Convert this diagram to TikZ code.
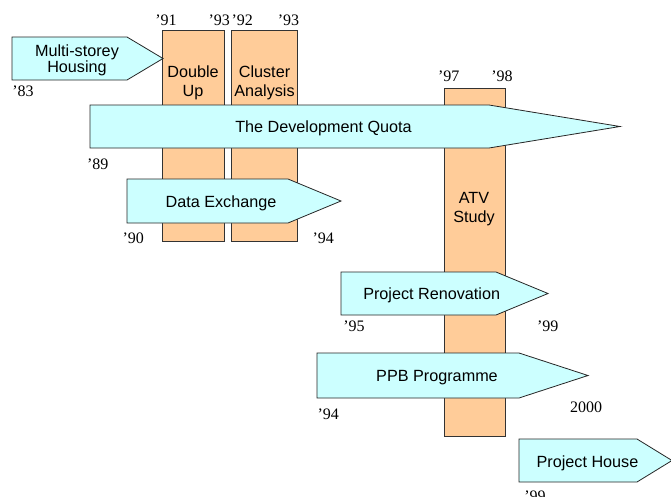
\documentclass[tikz,border=0pt]{standalone}
\usepackage{fontspec}
\setmainfont{Liberation Serif}
\setsansfont{Liberation Sans}
\definecolor{barfill}{RGB}{255,204,153}
\definecolor{phasefill}{RGB}{204,255,255}
\tikzset{
  bar/.style={draw=black!80,fill=barfill,line width=0.8pt},
  phase/.style={draw=black!85,fill=phasefill,line width=0.8pt,line join=miter},
  lbl/.style={font=\sffamily\fontsize{16.2}{19}\selectfont,anchor=base,align=center,inner sep=0pt},
  yr/.style={font=\fontsize{16}{18}\selectfont,anchor=base,inner sep=0pt}
}
% pentagon arrow: left, top, bottom, shoulder, tip
\newcommand{\phasebox}[5]{%
  \draw [phase] (#1,#2) -- (#4,#2) -- (#5,{(#2+#3)/2}) -- (#4,#3) -- (#1,#3) -- cycle;}

\begin{document}
\begin{tikzpicture}[x=1pt,y=-1pt]
    \useasboundingbox (0,0) rectangle (671,496);
    \clip (0,0) rectangle (671,496);

    % projects running in parallel
    \draw [bar] (162,30) rectangle (224,241);
    \draw [bar] (231,30) rectangle (297,241);
    \draw [bar] (444,88) rectangle (505,436);

    \phasebox{12}{37}{80}{127}{163}
    \phasebox{90}{105}{148}{489}{620}
    \phasebox{127}{179}{223}{288}{341}
    \phasebox{341}{272}{315}{496}{548}
    \phasebox{317}{353}{398}{519}{588}
    \phasebox{519}{439}{482}{637}{672}

    % base anchor sits on the last line
    \node [lbl,font=\sffamily\fontsize{16.2}{16}\selectfont] (housing) at (77,72) {Multi-storey\\Housing};
    \node [lbl] (double) at (193,96.3) {Double\\Up};
    \node [lbl,font=\sffamily\fontsize{16.2}{18.5}\selectfont] (cluster) at (264.5,96) {Cluster\\Analysis};
    \node [lbl] (quota) at (323.5,132) {The Development Quota};
    \node [lbl] (exchange) at (221,207) {Data Exchange};
    \node [lbl] (atv) at (474,222) {ATV\\Study};
    \node [lbl] (renovation) at (431.7,299.7) {Project Renovation};
    \node [lbl] (ppb) at (437,381.4) {PPB Programme};
    \node [lbl] (house) at (587.5,467) {Project House};

    % years
    \node [yr] (y91) at (166,25.7) {’91};
    \node [yr] (y93a) at (219.3,25.7) {’93};
    \node [yr] (y92) at (242.3,25.7) {’92};
    \node [yr] (y93b) at (288.5,25.7) {’93};
    \node [yr] (y83) at (23,96.7) {’83};
    \node [yr] (y89) at (97.8,169) {’89};
    \node [yr] (y97) at (448.8,81.7) {’97};
    \node [yr] (y98) at (502,81.7) {’98};
    \node [yr] (y90) at (133.3,243.3) {’90};
    \node [yr] (y94a) at (323.3,243.3) {’94};
    \node [yr] (y95) at (354,331.7) {’95};
    \node [yr] (y99a) at (547.8,331.7) {’99};
    \node [yr] (y94b) at (328.3,419) {’94};
    \node [yr] (y2000) at (586,412.7) {2000};
    \node [yr] (y99b) at (535,501) {’99};
\end{tikzpicture}
\end{document}
